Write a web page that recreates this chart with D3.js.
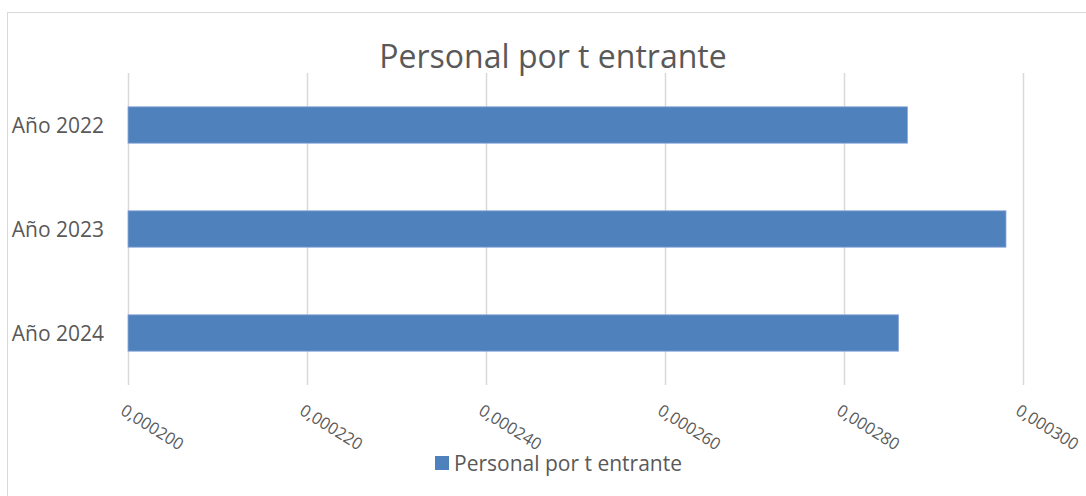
<!DOCTYPE html>
<html>
<head>
<meta charset="utf-8">
<script src="https://cdn.jsdelivr.net/npm/d3@7"></script>
<style>
  body { margin: 0; background: #fff; }
  text { font-family: "Open Sans", sans-serif; fill: #595959; }
</style>
</head>
<body>
<div class="chart"></div>
<script>
// chart data
const categories = ["Año 2022", "Año 2023", "Año 2024"];
const values = [0.0002871, 0.0002981, 0.0002861];
const ticks = [0.0002, 0.00022, 0.00024, 0.00026, 0.00028, 0.0003];
const seriesName = "Personal por t entrante";

var width = 1086, height = 496;
var margin = {top: 73, right: 63, bottom: 111, left: 128};

var svg = d3.select(".chart")
    .append("svg")
    .attr("width", width)
    .attr("height", height);

// outer border (runs off the right and bottom edges)
svg.append("rect")
    .attr("x", 7.5).attr("y", 12.5)
    .attr("width", 1090).attr("height", 500)
    .attr("fill", "#fff")
    .attr("stroke", "#d9d9d9");

var x = d3.scaleLinear()
    .domain([0.0002, 0.0003])
    .range([margin.left, width - margin.right]);

var y = d3.scaleBand()
    .domain(categories)
    .range([margin.top, height - margin.bottom])
    .paddingInner(0.65)
    .paddingOuter(0.325);

// gridlines
svg.append("g")
    .selectAll("line")
    .data(ticks)
    .enter()
    .append("line")
    .attr("x1", function(d) { return Math.round(x(d)) + 0.5; })
    .attr("x2", function(d) { return Math.round(x(d)) + 0.5; })
    .attr("y1", margin.top)
    .attr("y2", height - margin.bottom)
    .attr("stroke", "#d9d9d9")
    .attr("stroke-width", 1.5);

// bars
svg.append("g")
    .selectAll("rect")
    .data(values)
    .enter()
    .append("rect")
    .attr("x", x(0.0002))
    .attr("y", function(d, i) { return y(categories[i]); })
    .attr("width", function(d) { return x(d) - x(0.0002); })
    .attr("height", y.bandwidth())
    .attr("fill", "#4f81bd")
    .attr("stroke", "#8eaadb")
    .attr("stroke-width", 0.8);

// category labels
svg.append("g")
    .selectAll("text")
    .data(categories)
    .enter()
    .append("text")
    .attr("x", 104)
    .attr("y", function(d) { return y(d) + y.bandwidth() / 2; })
    .attr("dy", "0.36em")
    .attr("text-anchor", "end")
    .attr("font-size", 21)
    .text(function(d) { return d; });

// rotated tick labels
var fmt = function(d) { return d.toFixed(6).replace(".", ","); };
svg.append("g")
    .selectAll("text")
    .data(ticks)
    .enter()
    .append("text")
    .attr("transform", function(d) {
        return "translate(" + (x(d) - 2) + "," + 403 + ") rotate(32)";
    })
    .attr("dy", "0.75em")
    .attr("font-size", 16.5)
    .text(fmt);

// title
svg.append("text")
    .attr("x", 553)
    .attr("y", 68)
    .attr("text-anchor", "middle")
    .attr("font-size", 32)
    .text("Personal por t entrante");

// legend
svg.append("rect")
    .attr("x", 435).attr("y", 456)
    .attr("width", 14).attr("height", 14)
    .attr("fill", "#4f81bd");

svg.append("text")
    .attr("x", 454)
    .attr("y", 471)
    .attr("font-size", 21)
    .text(seriesName);
</script>
</body>
</html>
